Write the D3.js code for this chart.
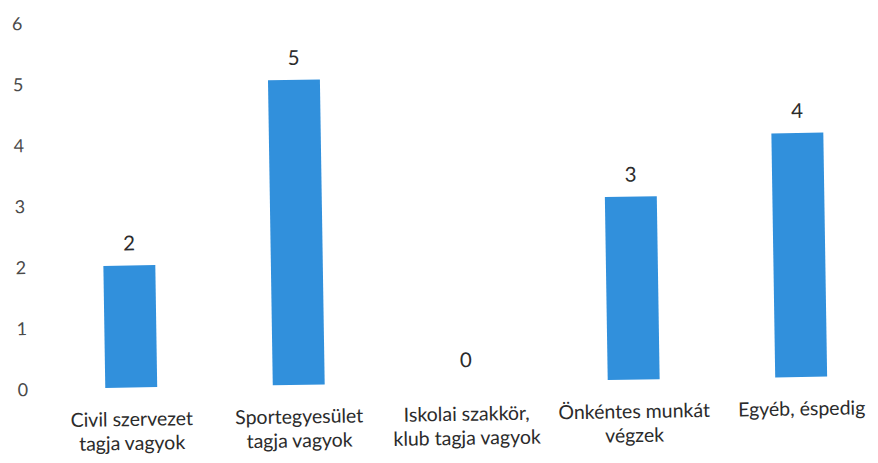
<!DOCTYPE html>
<html>
<head>
<meta charset="utf-8">
<script src="https://cdn.jsdelivr.net/npm/d3@7/dist/d3.min.js"></script>
<style>
  html, body { margin: 0; padding: 0; background: #fff; }
  svg { display: block; }
  text { font-family: Lato, "Open Sans", sans-serif; }
</style>
</head>
<body>
<svg id="chart" width="878" height="463"></svg>
<script>
// Categories (two-line labels) and counts
const categories = [
  ["Civil szervezet", "tagja vagyok"],
  ["Sportegyesület", "tagja vagyok"],
  ["Iskolai szakkör,", "klub tagja vagyok"],
  ["Önkéntes munkát", "végzek"],
  ["Egyéb, éspedig"]
];
const values = [2, 5, 0, 3, 4];
const yTicks = [0, 1, 2, 3, 4, 5, 6];

const svg = d3.select("#chart");
const keys = categories.map(c => c.join(" "));

// Whole plot is tilted slightly
const g = svg.append("g").attr("transform", "rotate(-0.9, 131, 387.5)");

const x = d3.scaleBand()
  .domain(keys)
  .range([47.5, 885])
  .paddingInner(0.69)
  .paddingOuter(0.345);

const y = d3.scaleLinear().domain([0, 6]).range([387.5, 21.5]);

// Y axis: labels only
const yAxis = g.append("g")
  .attr("transform", "translate(28,0)")
  .call(d3.axisLeft(y).tickValues(yTicks).tickSize(0).tickPadding(0).tickFormat(d3.format("d")));
yAxis.select(".domain").remove();
yAxis.selectAll("text")
  .attr("fill", "#4a4a4a")
  .attr("font-size", 18)
  .attr("dy", "0.36em")
  .style("font-family", "Lato, sans-serif");

// Bars
g.selectAll("rect.bar")
  .data(values)
  .join("rect")
  .attr("class", "bar")
  .attr("x", (d, i) => x(keys[i]))
  .attr("width", x.bandwidth())
  .attr("y", d => y(d))
  .attr("height", d => y(0) - y(d))
  .attr("fill", "#3190dc");

// Value labels
g.selectAll("text.val")
  .data(values)
  .join("text")
  .attr("class", "val")
  .attr("x", (d, i) => x(keys[i]) + x.bandwidth() / 2)
  .attr("y", d => y(d) - 15)
  .attr("text-anchor", "middle")
  .attr("font-size", 20.5)
  .attr("fill", "#2b2b2b")
  .text(d => d);

// Category labels
const cat = g.selectAll("text.cat")
  .data(categories)
  .join("text")
  .attr("class", "cat")
  .attr("x", (d, i) => x(keys[i]) + x.bandwidth() / 2)
  .attr("y", 426)
  .attr("text-anchor", "middle")
  .attr("font-size", 19.5)
  .attr("fill", "#2b2b2b");
cat.selectAll("tspan")
  .data(d => d)
  .join("tspan")
  .attr("x", function() { return d3.select(this.parentNode).attr("x"); })
  .attr("dy", (d, i) => i === 0 ? 0 : 24)
  .text(d => d);
</script>
</body>
</html>
